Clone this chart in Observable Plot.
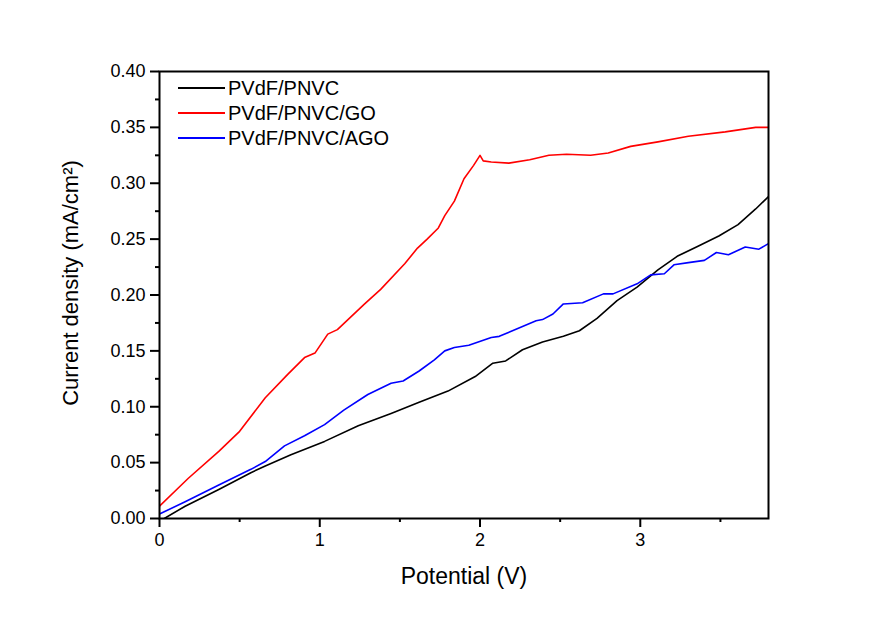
<!DOCTYPE html>
<html>
<head>
<meta charset="utf-8">
<script src="https://cdn.jsdelivr.net/npm/d3@7"></script>
<script src="https://cdn.jsdelivr.net/npm/@observablehq/plot@0.6"></script>
<style>
  html, body { margin: 0; padding: 0; background: #fff; }
  #chart { width: 896px; height: 627px; }
</style>
</head>
<body>
<div id="chart"></div>
<script>
// Series names (legend order)
const seriesNames = ["PVdF/PNVC", "PVdF/PNVC/GO", "PVdF/PNVC/AGO"];
const seriesColors = ["#000000", "#ff0000", "#0000ff"];

// PVdF/PNVC (black)
const pnvcX = [0.03, 0.16, 0.37, 0.57, 0.66, 0.82, 1.03, 1.24, 1.445, 1.62, 1.80, 1.97, 2.08, 2.16, 2.265, 2.39, 2.52, 2.62, 2.73, 2.855, 2.98, 3.11, 3.23, 3.36, 3.49, 3.61, 3.72, 3.80];
const pnvcY = [0.000, 0.011, 0.026, 0.041, 0.047, 0.057, 0.069, 0.083, 0.094, 0.104, 0.114, 0.127, 0.139, 0.141, 0.151, 0.158, 0.163, 0.168, 0.179, 0.195, 0.207, 0.2225, 0.2346, 0.2437, 0.2528, 0.263, 0.277, 0.288];

// PVdF/PNVC/GO (red)
const goX = [0.00, 0.18, 0.37, 0.50, 0.66, 0.80, 0.905, 0.97, 1.05, 1.11, 1.28, 1.38, 1.53, 1.61, 1.67, 1.74, 1.78, 1.84, 1.90, 1.96, 2.00, 2.02, 2.07, 2.18, 2.31, 2.43, 2.54, 2.69, 2.80, 2.94, 3.11, 3.30, 3.53, 3.72, 3.80];
const goY = [0.011, 0.036, 0.060, 0.078, 0.108, 0.129, 0.144, 0.148, 0.165, 0.169, 0.192, 0.205, 0.228, 0.242, 0.250, 0.260, 0.271, 0.284, 0.304, 0.316, 0.325, 0.320, 0.319, 0.318, 0.321, 0.325, 0.326, 0.325, 0.327, 0.333, 0.337, 0.342, 0.346, 0.350, 0.350];

// PVdF/PNVC/AGO (blue)
const agoX = [0.00, 0.16, 0.37, 0.57, 0.66, 0.78, 0.905, 1.03, 1.15, 1.30, 1.445, 1.52, 1.62, 1.715, 1.78, 1.84, 1.93, 2.07, 2.12, 2.35, 2.39, 2.455, 2.52, 2.64, 2.77, 2.83, 2.98, 3.065, 3.15, 3.21, 3.30, 3.40, 3.475, 3.55, 3.655, 3.74, 3.80];
const agoY = [0.004, 0.015, 0.030, 0.044, 0.051, 0.065, 0.074, 0.084, 0.097, 0.111, 0.121, 0.123, 0.132, 0.142, 0.150, 0.153, 0.155, 0.162, 0.163, 0.177, 0.178, 0.183, 0.192, 0.193, 0.201, 0.201, 0.210, 0.218, 0.219, 0.227, 0.229, 0.231, 0.238, 0.236, 0.243, 0.241, 0.246];

// Ticks
const xTicks = [0, 1, 2, 3];
const xMinor = [0.5, 1.5, 2.5, 3.5];
const yTicks = [0, 0.05, 0.10, 0.15, 0.20, 0.25, 0.30, 0.35, 0.40];
const yMinor = [0.025, 0.075, 0.125, 0.175, 0.225, 0.275, 0.325, 0.375];

const xLabel = "Potential (V)";
const yLabel = "Current density (mA/cm²)";

const toRows = (xs, ys, name) => xs.map((x, i) => ({x, y: ys[i], series: name}));
const data = [
  ...toRows(pnvcX, pnvcY, seriesNames[0]),
  ...toRows(goX, goY, seriesNames[1]),
  ...toRows(agoX, agoY, seriesNames[2])
];

const font = "'Liberation Sans', Arial, sans-serif";

const plot = Plot.plot({
  width: 896,
  height: 627,
  marginLeft: 159,
  marginRight: 128,
  marginTop: 71,
  marginBottom: 109,
  style: {fontFamily: font, fontSize: "18px", color: "#000", background: "#fff"},
  x: {domain: [0, 3.8]},
  y: {domain: [0, 0.4]},
  color: {domain: seriesNames, range: seriesColors},
  marks: [
    Plot.line(data, {x: "x", y: "y", z: "series", stroke: "series", strokeWidth: 1.6, clip: true}),
    Plot.axisX({ticks: xTicks, tickSize: 9, tickPadding: 6, tickFormat: d => String(d), label: null, strokeWidth: 2, fontSize: 18}),
    Plot.axisX({ticks: xMinor, tickSize: 4, tickFormat: () => "", label: null, strokeWidth: 2}),
    Plot.axisY({ticks: yTicks, tickSize: 9, tickPadding: 5, tickFormat: d => d.toFixed(2), label: null, strokeWidth: 2, fontSize: 18}),
    Plot.axisY({ticks: yMinor, tickSize: 4, tickFormat: () => "", label: null, strokeWidth: 2}),
    Plot.frame({stroke: "#000", strokeWidth: 2}),
    Plot.text([xLabel], {frameAnchor: "bottom", dy: 65, fontSize: 23, fill: "#000"}),
    Plot.text([yLabel], {frameAnchor: "left", textAnchor: "middle", dx: -89, dy: -12, rotate: -90, fontSize: 22, fill: "#000"})
  ]
});

// Legend (inside the plot area, top-left)
const svg = d3.select(plot);
const lg = svg.append("g").attr("font-family", font).attr("font-size", 20).attr("text-anchor", "start");
seriesNames.forEach((name, i) => {
  const y = 88 + i * 25;
  lg.append("line").attr("x1", 178).attr("x2", 225).attr("y1", y).attr("y2", y)
    .attr("stroke", seriesColors[i]).attr("stroke-width", 2);
  lg.append("text").attr("x", 228).attr("y", y).attr("dy", "0.35em")
    .attr("text-anchor", "start").attr("fill", "#000").text(name);
});

document.getElementById("chart").appendChild(plot);
</script>
</body>
</html>
